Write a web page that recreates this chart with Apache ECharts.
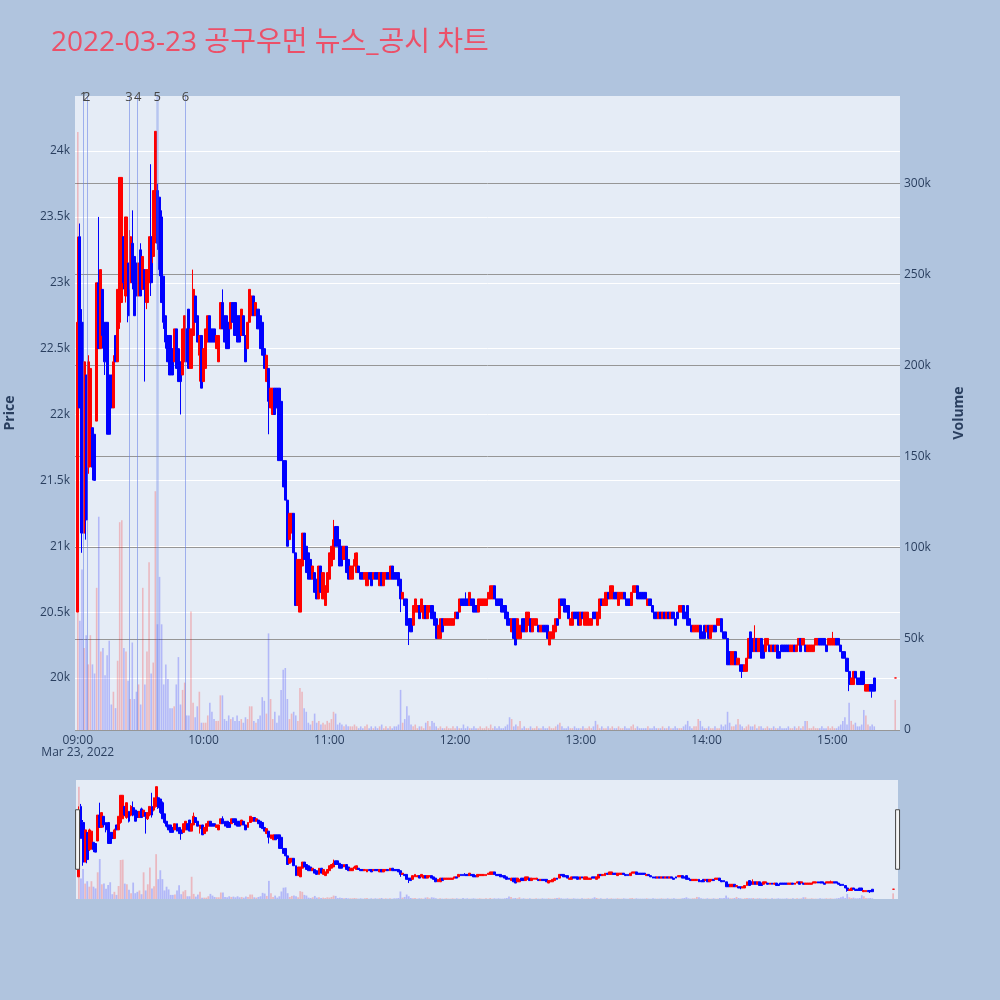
<!DOCTYPE html>
<html>
<head>
<meta charset="utf-8">
<script src="https://cdn.jsdelivr.net/npm/echarts@6/dist/echarts.min.js"></script>
<style>
  html, body { margin: 0; padding: 0; background: #b0c4de; }
  #chart { width: 1000px; height: 1000px; }
</style>
</head>
<body>
<div id="chart"></div>
<script>
// one candle per minute from 09:00, last entry is the 15:30 closing auction
const opens = [
  20500, 23350, 22700, 21100, 22300, 21600, 21850, 21900, 21850, 21950,
  23000, 22500, 22950, 22700, 22700, 22300, 22300, 22050, 22600, 22400,
  22700, 22850, 23350, 22900, 23150, 23000, 23300, 23200, 23150, 22900,
  23250, 22950, 23100, 22850, 23000, 23350, 23200, 23350, 23700, 23650,
  23500, 23050, 22750, 22600, 22600, 22500, 22400, 22650, 22500, 22400,
  22300, 22400, 22650, 22800, 22350, 22600, 22900, 22750, 22450, 22600,
  22250, 22350, 22550, 22750, 22650, 22650, 22500, 22400, 22650, 22850,
  22750, 22750, 22700, 22650, 22850, 22850, 22750, 22750, 22600, 22750,
  22600, 22500, 22700, 22750, 22900, 22750, 22800, 22750, 22700, 22500,
  22250, 22350, 22050, 22000, 22200, 22200, 22200, 22100, 21650, 21650,
  21350, 21050, 21100, 21250, 20950, 20550, 20500, 20850, 21100, 21000,
  20950, 20900, 20750, 20800, 20750, 20600, 20850, 20600, 20550, 20650,
  20750, 20850, 20900, 21150, 21150, 21050, 21000, 20900, 21000, 20900,
  20750, 20750, 20850, 20800, 20850, 20800, 20800, 20750, 20700, 20800,
  20800, 20750, 20800, 20800, 20700, 20800, 20700, 20750, 20800, 20750,
  20850, 20800, 20800, 20800, 20750, 20600, 20600, 20600, 20450, 20450,
  20400, 20500, 20500, 20550, 20500, 20450, 20550, 20450, 20500, 20550,
  20500, 20450, 20300, 20300, 20450, 20400, 20400, 20400, 20400, 20400,
  20450, 20500, 20500, 20600, 20600, 20600, 20600, 20550, 20600, 20600,
  20550, 20500, 20550, 20550, 20550, 20550, 20600, 20600, 20600, 20700,
  20600, 20600, 20600, 20550, 20550, 20500, 20450, 20350, 20450, 20450,
  20300, 20300, 20450, 20450, 20350, 20400, 20450, 20350, 20400, 20400,
  20400, 20350, 20400, 20400, 20400, 20250, 20300, 20300, 20350, 20450,
  20450, 20600, 20600, 20550, 20550, 20400, 20400, 20500, 20500, 20500,
  20400, 20500, 20400, 20400, 20400, 20400, 20500, 20500, 20400, 20450,
  20600, 20550, 20550, 20650, 20600, 20600, 20650, 20650, 20550, 20600,
  20600, 20650, 20600, 20600, 20550, 20650, 20650, 20700, 20650, 20650,
  20650, 20650, 20550, 20600, 20550, 20500, 20500, 20450, 20500, 20450,
  20500, 20450, 20500, 20450, 20500, 20450, 20500, 20500, 20500, 20550,
  20500, 20550, 20450, 20400, 20350, 20350, 20350, 20400, 20350, 20400,
  20350, 20400, 20300, 20350, 20400, 20400, 20400, 20450, 20350, 20350,
  20300, 20200, 20100, 20100, 20200, 20100, 20100, 20100, 20050, 20050,
  20150, 20350, 20300, 20200, 20300, 20200, 20300, 20250, 20200, 20250,
  20250, 20200, 20250, 20200, 20250, 20200, 20250, 20250, 20250, 20250,
  20200, 20200, 20250, 20200, 20250, 20300, 20250, 20250, 20200, 20200,
  20200, 20200, 20250, 20250, 20300, 20300, 20300, 20250, 20250, 20250,
  20250, 20250, 20300, 20300, 20250, 20200, 20200, 20150, 20050, 19950,
  19950, 20050, 20000, 20000, 20050, 20050, 19900, 19900, 19950, 19950,
  20000,
  20000
];
const closes = [
  22700, 22050, 21100, 22400, 21200, 22400, 22350, 21600, 21500, 23000,
  22500, 23100, 22600, 22400, 21850, 21850, 22050, 22400, 22400, 22950,
  23800, 23800, 23000, 23500, 22750, 23350, 23000, 22750, 22900, 23150,
  22900, 23200, 22950, 23100, 23350, 23000, 23700, 24150, 23300, 23100,
  22850, 22700, 22550, 22400, 22300, 22300, 22650, 22350, 22250, 22250,
  22650, 22750, 22400, 22350, 22650, 22950, 22700, 22550, 22600, 22200,
  22500, 22650, 22750, 22550, 22550, 22550, 22600, 22600, 22850, 22650,
  22550, 22500, 22500, 22850, 22700, 22600, 22550, 22550, 22800, 22600,
  22400, 22700, 22950, 22900, 22750, 22850, 22650, 22500, 22450, 22350,
  22450, 22100, 22200, 22200, 22000, 22050, 21650, 21650, 21450, 21350,
  21000, 21250, 21250, 20950, 20550, 20900, 20900, 21100, 20900, 20800,
  20750, 20750, 20850, 20650, 20600, 20850, 20650, 20800, 20700, 20800,
  20950, 21000, 21050, 21000, 21000, 20850, 20850, 21000, 20800, 20750,
  20850, 20850, 20900, 20950, 20800, 20750, 20750, 20800, 20800, 20750,
  20700, 20800, 20750, 20750, 20800, 20700, 20800, 20800, 20750, 20850,
  20750, 20750, 20750, 20700, 20600, 20650, 20550, 20400, 20400, 20350,
  20550, 20600, 20550, 20450, 20600, 20550, 20450, 20550, 20550, 20450,
  20400, 20300, 20400, 20450, 20350, 20450, 20450, 20450, 20450, 20450,
  20500, 20450, 20600, 20550, 20550, 20550, 20550, 20650, 20550, 20500,
  20500, 20600, 20600, 20600, 20600, 20600, 20650, 20700, 20700, 20600,
  20550, 20550, 20500, 20500, 20450, 20400, 20400, 20450, 20300, 20250,
  20450, 20400, 20350, 20350, 20500, 20500, 20350, 20450, 20450, 20450,
  20350, 20400, 20350, 20350, 20300, 20350, 20350, 20400, 20450, 20400,
  20600, 20550, 20500, 20500, 20450, 20450, 20500, 20450, 20450, 20400,
  20500, 20450, 20500, 20500, 20450, 20450, 20450, 20450, 20500, 20600,
  20550, 20600, 20650, 20600, 20700, 20700, 20600, 20600, 20650, 20650,
  20650, 20600, 20550, 20550, 20650, 20700, 20700, 20600, 20600, 20600,
  20600, 20600, 20600, 20550, 20500, 20450, 20450, 20500, 20450, 20500,
  20450, 20500, 20450, 20500, 20450, 20400, 20450, 20550, 20550, 20450,
  20450, 20400, 20400, 20350, 20400, 20400, 20400, 20300, 20300, 20300,
  20400, 20300, 20400, 20400, 20350, 20450, 20450, 20350, 20300, 20300,
  20100, 20100, 20200, 20200, 20100, 20150, 20050, 20050, 20100, 20150,
  20300, 20150, 20200, 20300, 20200, 20300, 20150, 20150, 20300, 20300,
  20200, 20250, 20200, 20250, 20150, 20150, 20200, 20200, 20200, 20200,
  20250, 20250, 20200, 20250, 20300, 20200, 20300, 20200, 20250, 20250,
  20250, 20250, 20300, 20300, 20250, 20250, 20250, 20200, 20300, 20300,
  20300, 20300, 20250, 20250, 20200, 20150, 20150, 20050, 19950, 20000,
  20050, 20000, 19950, 19950, 19950, 19950, 19950, 19950, 19900, 19900,
  19900,
  20000
];
// wicks that reach past the body (index -> price)
const highs = {
  0: 23350, 1: 23450, 2: 22800, 5: 22450, 10: 23500, 15: 22600, 17: 22450,
  25: 23400, 26: 23550, 30: 23300, 35: 23900, 38: 23750, 40: 23550, 55: 23100,
  69: 22950, 122: 21200, 132: 20950, 185: 20650, 323: 20400, 360: 20350
};
const lows = {
  2: 20950, 4: 21050, 5: 21550, 6: 21600, 7: 21500, 12: 22500, 13: 22300,
  20: 22650, 22: 22950, 23: 22850, 24: 22700, 25: 22950, 26: 22950, 32: 22250,
  33: 22800, 34: 22950, 35: 22900, 36: 23150, 37: 23300, 38: 23250, 39: 23050,
  41: 22650, 42: 22500, 49: 22000, 58: 22250, 91: 21850, 154: 20500,
  158: 20250, 317: 20000, 368: 19900, 379: 19850
};
// volume in thousands of shares
const volumes = [
  328, 60, 88, 45, 52, 36, 52, 36, 31, 78,
  117, 43, 45, 30, 41, 49, 14, 21, 12, 38,
  114, 115, 45, 43, 27, 17, 48, 17, 21, 25,
  14, 78, 25, 43, 92, 31, 37, 131, 58, 84,
  58, 25, 36, 28, 12, 12, 13, 25, 40, 14,
  22, 26, 8, 8, 65, 15, 7, 13, 21, 4,
  4, 4, 8, 15, 10, 6, 5, 5, 19, 19,
  6, 5, 8, 6, 7, 5, 8, 5, 6, 4,
  7, 6, 13, 13, 5, 4, 6, 8, 18, 16,
  9, 53, 17, 6, 10, 4, 8, 22, 33, 34,
  17, 6, 9, 10, 8, 5, 23, 21, 12, 10,
  4, 3, 5, 9, 4, 5, 3, 4, 3, 5,
  4, 6, 10, 9, 3, 4, 3, 2, 3, 2,
  2, 2, 3, 2, 1, 2, 1, 2, 3, 1,
  2, 1, 2, 1, 2, 3, 1, 2, 1, 2,
  1, 2, 2, 3, 22, 4, 6, 13, 8, 3,
  2, 3, 1, 2, 2, 1, 4, 5, 2, 5,
  4, 2, 1, 2, 1, 1, 2, 1, 1, 2,
  1, 2, 1, 1, 3, 1, 2, 1, 1, 2,
  1, 1, 2, 1, 1, 2, 1, 3, 1, 2,
  1, 2, 1, 1, 2, 3, 7, 6, 2, 3,
  2, 5, 1, 2, 1, 1, 2, 1, 1, 2,
  1, 1, 2, 1, 1, 2, 1, 1, 2, 3,
  4, 2, 1, 1, 2, 1, 1, 2, 1, 1,
  1, 2, 1, 1, 2, 1, 2, 5, 3, 1,
  2, 1, 1, 2, 1, 2, 1, 1, 2, 1,
  1, 2, 1, 1, 2, 3, 1, 2, 1, 1,
  1, 1, 2, 1, 1, 2, 1, 1, 1, 2,
  1, 1, 2, 1, 1, 2, 1, 1, 1, 2,
  3, 5, 2, 1, 2, 2, 6, 5, 2, 1,
  1, 2, 1, 1, 2, 1, 1, 3, 2, 3,
  10, 4, 2, 2, 3, 6, 3, 2, 1, 2,
  3, 2, 2, 3, 1, 2, 2, 1, 1, 2,
  1, 1, 2, 1, 1, 2, 1, 1, 1, 2,
  1, 1, 2, 1, 2, 1, 2, 5, 5, 1,
  1, 2, 1, 1, 1, 2, 1, 1, 2, 1,
  2, 1, 1, 2, 3, 5, 7, 3, 15, 5,
  3, 4, 2, 2, 3, 11, 8, 3, 2, 3,
  2,
  16.5
];
const auctionMinute = 390;

// news / disclosure markers
const newsTimes = ['09:02:42', '09:04:18', '09:24:24', '09:28:36', '09:37:54', '09:51:24'];
const newsLabels = ['1', '2', '3', '4', '5', '6'];

const dayStart = new Date(2022, 2, 23, 9, 0, 0).getTime();
const MIN = 60 * 1000;
const timeOf = i => dayStart + (i === opens.length - 1 ? auctionMinute : i) * MIN;

const UP = '#ff0000', DOWN = '#0000ff';
const candles = [], vols = [];
opens.forEach((o, i) => {
  const c = closes[i];
  const t = timeOf(i);
  const lo = lows[i] !== undefined ? lows[i] : Math.min(o, c);
  const hi = highs[i] !== undefined ? highs[i] : Math.max(o, c);
  candles.push([t, o, c, lo, hi]);
  const up = c > o || (c === o && (i === 0 || closes[i - 1] <= c));
  vols.push({
    value: [t, volumes[i] * 1000],
    itemStyle: { color: up ? 'rgba(255,0,0,0.22)' : 'rgba(0,0,255,0.22)' }
  });
});

const toTime = s => {
  const p = s.split(':').map(Number);
  return new Date(2022, 2, 23, p[0], p[1], p[2]).getTime();
};
const newsLines = newsTimes.map((s, i) => ({
  xAxis: toTime(s),
  name: newsLabels[i],
  lineStyle: i === 4
    ? { color: 'rgba(100,125,230,0.35)', width: 2.5, type: 'solid' }
    : { color: 'rgba(100,125,230,0.55)', width: 1, type: 'solid' }
}));

const xMin = dayStart - 57 * 1000;
const xMax = dayStart + 391.9 * MIN;
const priceMin = 19605, priceMax = 24418;
const volMax = 347800;
const font = "'Open Sans', 'Noto Sans CJK KR', sans-serif";
const ink = '#2a3f5f';

const chart = echarts.init(document.getElementById('chart'));
chart.setOption({
  animation: false,
  backgroundColor: '#b0c4de',
  textStyle: { fontFamily: font },
  title: {
    text: '2022-03-23 공구우먼 뉴스_공시 차트',
    left: 46,
    top: 24,
    textStyle: { color: '#ec5068', fontSize: 28, fontWeight: 'normal', fontFamily: font }
  },
  grid: [
    { left: 75, top: 96, width: 825, height: 634, show: true, backgroundColor: '#e5ecf6', borderWidth: 0, outerBoundsMode: 'none' },
    { left: 76, top: 780, width: 822, height: 119, show: true, backgroundColor: '#e5ecf6', borderWidth: 0, outerBoundsMode: 'none' }
  ],
  xAxis: [
    {
      type: 'time', gridIndex: 0, min: xMin, max: xMax,
      minInterval: 3600 * 1000, maxInterval: 3600 * 1000,
      axisLine: { show: false }, axisTick: { show: false }, splitLine: { show: false },
      axisLabel: {
        color: ink, fontSize: 12, margin: 5, showMinLabel: false, showMaxLabel: false,
        formatter: v => {
          const d = new Date(v);
          const s = String(d.getHours()).padStart(2, '0') + ':' + String(d.getMinutes()).padStart(2, '0');
          return (d.getHours() === 9 && d.getMinutes() === 0) ? s + '\nMar 23, 2022' : s;
        }
      }
    },
    {
      type: 'time', gridIndex: 1, min: xMin, max: xMax, show: false
    }
  ],
  yAxis: [
    {
      type: 'value', gridIndex: 0, position: 'left', min: priceMin, max: priceMax, splitNumber: 10,
      name: 'Price', nameLocation: 'middle', nameGap: 58, nameRotate: 90,
      nameTextStyle: { color: ink, fontSize: 14, fontWeight: 'bold' },
      axisLine: { show: false }, axisTick: { show: false },
      splitLine: { showMinLine: false, showMaxLine: false, lineStyle: { color: '#ffffff', width: 1 } },
      axisLabel: {
        color: ink, fontSize: 12, margin: 5,
        formatter: v => (v % 500 === 0 ? (v / 1000) + 'k' : '')
      }
    },
    {
      type: 'value', gridIndex: 0, position: 'right', min: 0, max: volMax, interval: 50000,
      name: 'Volume', nameLocation: 'middle', nameGap: 52, nameRotate: 90,
      nameTextStyle: { color: ink, fontSize: 14, fontWeight: 'bold' },
      axisLine: { show: false }, axisTick: { show: false },
      splitLine: { showMaxLine: false, lineStyle: { color: '#969696', width: 1 } },
      axisLabel: {
        color: ink, fontSize: 12, margin: 4, showMaxLabel: false,
        formatter: v => (v === 0 ? '0' : (v / 1000) + 'k')
      }
    },
    { type: 'value', gridIndex: 1, min: priceMin, max: priceMax, show: false, splitLine: { show: false } },
    { type: 'value', gridIndex: 1, min: 0, max: volMax, show: false, splitLine: { show: false } }
  ],
  dataZoom: [{
    type: 'slider', xAxisIndex: 1, start: 0, end: 100,
    left: 76, width: 822, top: 780, height: 119,
    showDataShadow: false, showDetail: false, brushSelect: false, moveHandleSize: 0,
    backgroundColor: 'rgba(0,0,0,0)', borderColor: 'rgba(0,0,0,0)', fillerColor: 'rgba(0,0,0,0)',
    handleIcon: 'path://M0,0 L4,0 L4,60 L0,60 Z', handleSize: '50%',
    handleStyle: { color: '#f4f4f4', borderColor: '#444444', borderWidth: 1 }
  }],
  series: [
    {
      type: 'bar', name: 'vol', xAxisIndex: 0, yAxisIndex: 1, data: vols,
      barWidth: 1.6, z: 1
    },
    {
      type: 'candlestick', name: 'price', xAxisIndex: 0, yAxisIndex: 0, data: candles,
      encode: { x: 0, y: [1, 2, 3, 4] },
      barWidth: 2.6, z: 3,
      itemStyle: { color: UP, color0: DOWN, borderColor: UP, borderColor0: DOWN, borderWidth: 1 },
      markLine: {
        silent: true, symbol: ['none', 'none'], animation: false,
        label: { show: true, position: 'end', formatter: '{b}', color: '#444444', fontSize: 13, distance: -8 },
        data: newsLines
      }
    },
    {
      type: 'bar', name: 'volMini', xAxisIndex: 1, yAxisIndex: 3, data: vols,
      barWidth: 1.8, z: 1
    },
    {
      type: 'candlestick', name: 'priceMini', xAxisIndex: 1, yAxisIndex: 2, data: candles,
      encode: { x: 0, y: [1, 2, 3, 4] },
      barWidth: 2.4, z: 3,
      itemStyle: { color: UP, color0: DOWN, borderColor: UP, borderColor0: DOWN, borderWidth: 1 }
    }
  ]
});
</script>
</body>
</html>
